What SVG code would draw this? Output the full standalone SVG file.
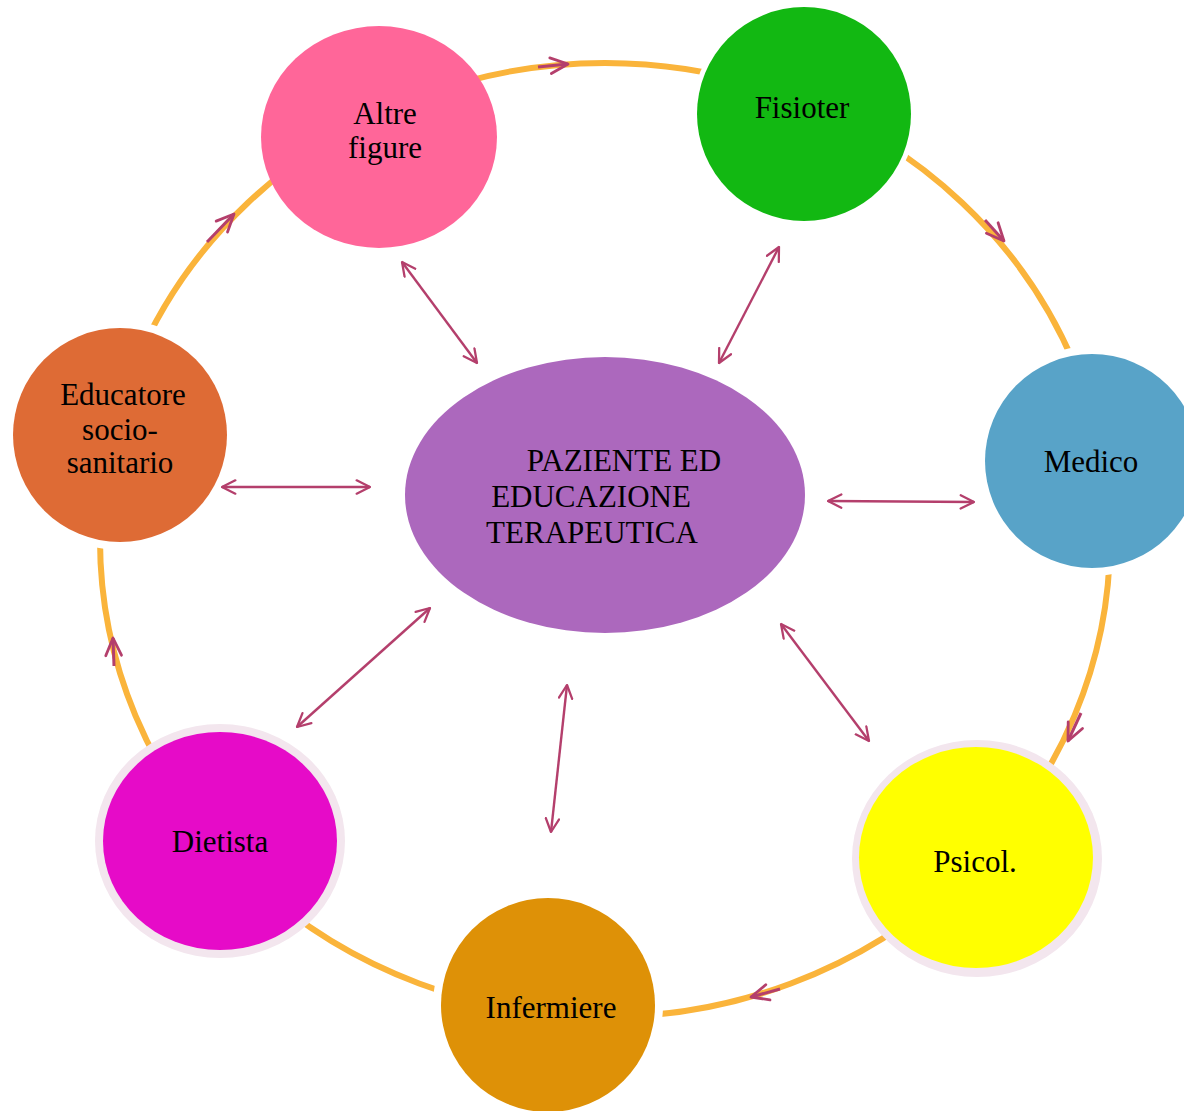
<svg xmlns="http://www.w3.org/2000/svg" width="1184" height="1111" viewBox="0 0 1184 1111">
<style>
  text { font-family: "Liberation Serif", "Times New Roman", serif; font-size: 31px; fill: #000; text-anchor: middle; }
  .halo { fill: #fff; }
  .conn { stroke: #B43F6C; stroke-width: 2.4; fill: none; }
  .rconn { stroke: #B43F6C; stroke-width: 3; fill: none; }
  .ring { stroke: #FAB43B; stroke-width: 6; fill: none; }
</style>
<defs>
  <marker id="ah" viewBox="0 0 12 12" refX="11" refY="6" markerWidth="16" markerHeight="16" markerUnits="userSpaceOnUse" orient="auto-start-reverse">
    <path d="M1,1 L11,6 L1,11" fill="none" stroke="#B43F6C" stroke-width="1.7" stroke-linecap="round" stroke-linejoin="round"/>
  </marker>
  <marker id="ah2" viewBox="0 0 12 12" refX="11" refY="6" markerWidth="21" markerHeight="21" markerUnits="userSpaceOnUse" orient="auto">
    <path d="M1,1.5 L11,6 L1,10.5" fill="none" stroke="#B43F6C" stroke-width="1.6" stroke-linecap="round" stroke-linejoin="round"/>
  </marker>
</defs>
<rect width="1184" height="1111" fill="#fff"/>
<ellipse class="ring" cx="605" cy="540" rx="505" ry="477"/>
<g id="halos">
  <circle class="halo" cx="804" cy="114" r="112"/>
  <circle class="halo" cx="1092" cy="461" r="115"/>
  <circle class="halo" cx="548" cy="1005" r="115"/>
  <circle class="halo" cx="120" cy="435" r="115"/>
</g>
<g id="centro">
  <ellipse cx="605" cy="495" rx="200" ry="138" fill="#AC68BD"/>
  <text x="624" y="471">PAZIENTE ED</text>
  <text x="591" y="507">EDUCAZIONE</text>
  <text x="592" y="543">TERAPEUTICA</text>
</g>
<g id="altre">
  <ellipse cx="379" cy="137" rx="118" ry="111" fill="#FF6699"/>
  <text x="385" y="124">Altre</text>
  <text x="385" y="158">figure</text>
</g>
<g id="fisioter">
  <circle cx="804" cy="114" r="107" fill="#12B812"/>
  <text x="802" y="118">Fisioter</text>
</g>
<g id="medico">
  <circle cx="1092" cy="461" r="107" fill="#58A3C8"/>
  <text x="1091" y="472">Medico</text>
</g>
<g id="psicol">
  <ellipse cx="977" cy="858.5" rx="125" ry="118.5" fill="#F3E6EE"/>
  <ellipse cx="976" cy="857.5" rx="117" ry="110.5" fill="#FFFF00"/>
  <text x="975" y="872">Psicol.</text>
</g>
<g id="infermiere">
  <circle cx="548" cy="1005" r="107" fill="#DE9107"/>
  <text x="551" y="1018">Infermiere</text>
</g>
<g id="dietista">
  <ellipse cx="220" cy="841" rx="125" ry="117" fill="#F3E6EE"/>
  <ellipse cx="220" cy="841" rx="117" ry="109" fill="#E60BC8"/>
  <text x="220" y="852">Dietista</text>
</g>
<g id="educatore">
  <circle cx="120" cy="435" r="107" fill="#DE6B35"/>
  <text x="123" y="405">Educatore</text>
  <text x="120" y="440">socio-</text>
  <text x="120" y="473">sanitario</text>
</g>
<g id="connectors">
  <line class="conn" x1="402" y1="262" x2="477" y2="363" marker-start="url(#ah)" marker-end="url(#ah)"/>
  <line class="conn" x1="779" y1="247" x2="719" y2="363" marker-start="url(#ah)" marker-end="url(#ah)"/>
  <line class="conn" x1="222" y1="487" x2="370" y2="487" marker-start="url(#ah)" marker-end="url(#ah)"/>
  <line class="conn" x1="828" y1="501" x2="974" y2="502" marker-start="url(#ah)" marker-end="url(#ah)"/>
  <line class="conn" x1="781" y1="624" x2="869" y2="741" marker-start="url(#ah)" marker-end="url(#ah)"/>
  <line class="conn" x1="567" y1="685" x2="551" y2="832" marker-start="url(#ah)" marker-end="url(#ah)"/>
  <line class="conn" x1="430" y1="608" x2="297" y2="727" marker-start="url(#ah)" marker-end="url(#ah)"/>
  <line class="rconn" x1="538" y1="67" x2="568" y2="64" marker-end="url(#ah2)"/>
  <line class="rconn" x1="985" y1="220" x2="1004" y2="241" marker-end="url(#ah2)"/>
  <line class="rconn" x1="1081" y1="713" x2="1068" y2="741" marker-end="url(#ah2)"/>
  <line class="rconn" x1="780" y1="989" x2="751" y2="997" marker-end="url(#ah2)"/>
  <line class="rconn" x1="114" y1="666" x2="113" y2="638" marker-end="url(#ah2)"/>
  <line class="rconn" x1="207" y1="242" x2="234" y2="214" marker-end="url(#ah2)"/>
</g>
</svg>
